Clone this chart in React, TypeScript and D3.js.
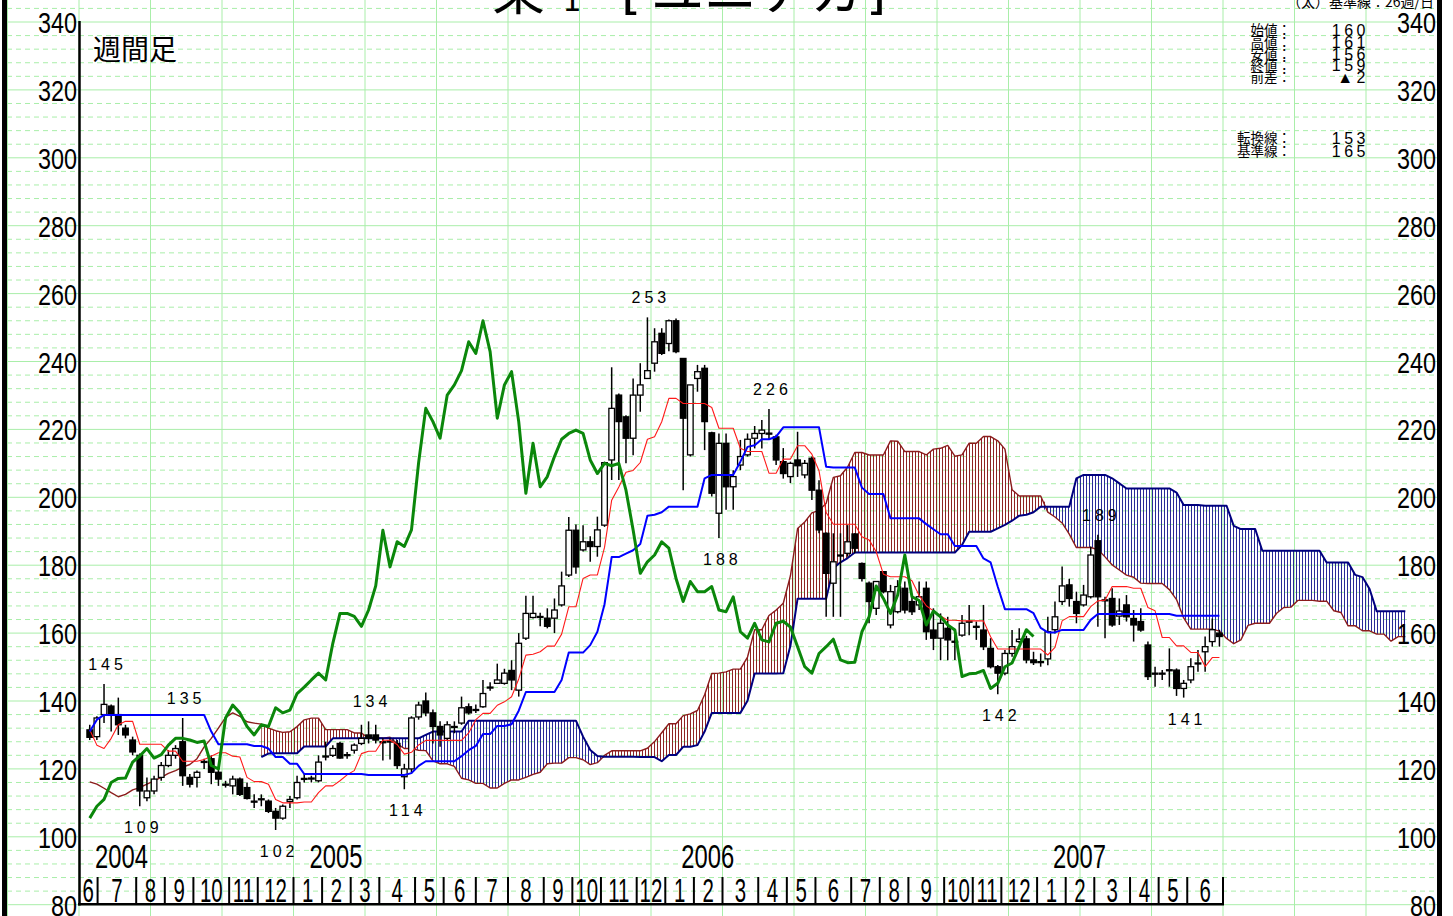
import React from "react";
import * as d3 from "d3";

// ---------------- DATA (weekly candles, June 2004 - June 2007) ----------------
const weekOpen = [
  131.5, 129.5, 136, 138.5, 136, 132, 128.5, 124, 111.5, 113.5,
  117.5, 121, 124, 128, 117.5, 117.5, 122, 123, 119, 115.5,
  115, 117, 114.5, 110.5, 111, 110.5, 107.5, 105.5, 110.4, 111.5,
  117, 117, 116.5, 123.5, 124, 127.5, 124, 125.5, 127.5, 130,
  130, 128, 128, 127.5, 117.7, 120, 135.3, 140, 136.5, 132.5,
  129, 132.3, 133.5, 138.3, 137.5, 138.3, 144, 145.2, 145.2, 149,
  143.2, 158.5, 164.6, 164.7, 164.4, 164.4, 168.3, 177.1, 190.3, 184.5,
  186.9, 185.5, 191.8, 211, 230.1, 223.7, 217.4, 230.1, 235, 239.5,
  248.3, 245.3, 252, 240.9, 212.5, 235, 238, 219, 195.3, 215.9,
  203.1, 209.5, 212.5, 217.4, 218.8, 218.9, 217.8, 210.5, 206.1, 211,
  206.6, 211.5, 202.1, 189.4, 174.7, 182.8, 183.5, 189.2, 180.5, 174.7,
  167.3, 178.1, 162.4, 166.3, 173.2, 169.3, 168.3, 173.2, 160.9, 158.5,
  161.4, 157.6, 159.4, 163.3, 162, 160.9, 155.5, 150.1, 148.2, 154,
  157.5, 158.3, 152.1, 151.6, 152.4, 161, 169.3, 174.2, 169.3, 168.3,
  170.7, 187.2, 169.8, 170.2, 165, 168.3, 164.3, 163.4, 156.5, 148.2,
  148, 149.2, 149.1, 143.7, 146.2, 151, 154.5, 157.5, 160,
];
const weekHigh = [
  133, 135.5, 145, 139, 141, 133, 129.5, 124.5, 117.5, 118,
  122, 125.5, 127, 135, 118.5, 119.5, 123, 124, 120, 116.5,
  118, 117.5, 116, 112.5, 112.5, 111, 108.5, 109.5, 112, 118,
  118.5, 118, 124, 128, 127, 128, 125, 127.5, 133, 134,
  133, 129, 129, 128.5, 121.5, 135.5, 139.8, 142.5, 137.5, 134,
  134, 134, 141.3, 139.3, 139, 146.2, 145.5, 151, 149.5, 152,
  160, 171, 171, 166, 167.3, 170.2, 178.1, 194.2, 192, 191.8,
  188.5, 194.3, 210.5, 238.3, 230.6, 224.2, 235, 239.5, 253, 249.8,
  249.8, 252.4, 252.7, 240.9, 233.1, 239, 239, 219.3, 218.8, 218.8,
  208, 216.9, 218.8, 221, 222.8, 226, 218.4, 214.5, 210.5, 219.3,
  211, 212, 205, 189.6, 189.4, 189.4, 191.8, 189.4, 180.8, 175.2,
  175.2, 178.1, 174.2, 175.6, 175.2, 170.7, 175.2, 175.2, 167.3, 165.8,
  164.8, 159.5, 165.3, 168.3, 163.4, 168.3, 158.5, 150.6, 155, 160.9,
  161.4, 159.2, 154.5, 154, 164.8, 169.3, 179.6, 176, 172.2, 174.2,
  185.5, 189, 170.7, 173.2, 170.2, 171.2, 166.8, 167.3, 157.5, 150.1,
  149.1, 155.5, 149.6, 146.2, 152.6, 155, 159, 164.3, 161,
];
const weekLow = [
  128.5, 128.5, 133.5, 131, 130, 129, 124, 109, 110.5, 112.5,
  116.5, 120.5, 123, 115, 114.5, 114.5, 120, 115.5, 115, 114.5,
  112.5, 112, 111, 108.5, 109, 107, 102, 105, 108.5, 111,
  116, 116, 116, 122.5, 123.5, 123, 123, 124.5, 127, 127.5,
  127.5, 122.5, 122.8, 120, 114, 118.7, 134.5, 135.5, 127.5, 126.5,
  128.5, 130.5, 133, 136, 136.5, 138, 143, 145, 144.8, 143.2,
  141.3, 158, 164.3, 162, 161.4, 160, 167.8, 176.5, 177.5, 184,
  181, 182.5, 191.3, 205.1, 205.1, 210, 212.4, 225.2, 235, 237,
  241.9, 243, 242.4, 202.1, 212, 231.1, 213.9, 200.2, 188, 196.3,
  196.3, 208, 212, 214.4, 214.4, 216.9, 209.5, 205.5, 204.2, 206,
  205.6, 199.2, 189.4, 164.8, 164.8, 164.8, 182.5, 183.5, 175.2, 162.9,
  165.3, 171.7, 161.4, 165.8, 165.8, 165.3, 166.8, 158, 155, 152,
  152, 152.1, 158.9, 159.4, 158, 155, 149.6, 142, 147.6, 153,
  157, 151.1, 150.6, 150.1, 150.5, 159.9, 168.3, 167.8, 162.9, 167.8,
  170.2, 161.9, 158.5, 161.9, 162.4, 163.4, 157.5, 160.4, 146.2, 144.2,
  146.2, 144.2, 141.5, 141, 145.2, 148.6, 148.6, 156, 156,
];
const weekClose = [
  129.3, 135, 139, 136, 133, 130, 125, 113.5, 113.5, 117,
  121, 124, 126, 118, 115.5, 119, 122.2, 119, 117, 115.3,
  117, 112.5, 111.3, 110.4, 111.2, 107.5, 105.5, 109, 111, 116,
  117.2, 117.3, 122, 123.8, 126, 123.2, 124.2, 127, 129, 129,
  128.5, 127.8, 128.2, 121, 120, 135, 138.8, 136.5, 132.5, 130,
  133, 132.5, 138, 136.5, 137.3, 142.2, 144.1, 146.2, 148.2, 146.2,
  157, 165.8, 165.8, 164.9, 162, 166.8, 173.9, 190.3, 179.5, 186.9,
  185.5, 190.4, 210.2, 226.2, 222.3, 217.4, 230.1, 233.1, 237.3, 245.8,
  242.4, 252, 242.9, 223.3, 233.1, 237, 222.3, 201.2, 215.9, 203.1,
  206.1, 212, 217.1, 218.8, 219.8, 218.8, 211, 207, 210, 209.3,
  210, 202.1, 190.4, 177.6, 181, 183, 186.9, 185, 176.1, 169.3,
  175.2, 172.2, 172.2, 173.7, 166.8, 166.3, 170.7, 160.4, 158.5, 162.9,
  158, 157.4, 162.9, 163.5, 161.8, 156, 150.1, 148.2, 154, 156,
  158.2, 152.1, 151.3, 151.4, 160.4, 164.8, 173.9, 170.2, 165.8, 171.2,
  183, 170.7, 169.6, 162.4, 166.5, 164.8, 162.4, 160.9, 147.2, 148,
  148.2, 149, 143.7, 145.2, 150.1, 151.2, 156, 161, 159,
];

// 転換線 (conversion line), one value per week
const tenkanLine = [
  131.5, 127, 126, 129, 133, 134, 134, 127.25, 127.25, 127.25,
  127.25, 125.25, 125.25, 122.25, 122.25, 122.25, 122.75, 123.75, 124.75, 124.75,
  123.75, 123.5, 117.5, 116.25, 116.25, 115.5, 111, 110, 110, 110,
  110.25, 110.25, 113, 115, 115, 116.5, 118.25, 119.5, 124.5, 125.2,
  125.2, 128.45, 128.45, 127.2, 124.35, 124.9, 127.05, 128.4, 128.4, 128.4,
  128.4, 128.4, 128.4, 130.6, 134.5, 136.35, 136.35, 138.75, 139.75, 141.25,
  146.5, 153.5, 153.75, 154.5, 156.15, 156.15, 159.7, 167.75, 167.75, 176.1,
  177.1, 177.15, 185.25, 199.15, 203.05, 207.4, 207.9, 210.25, 217.1, 217.85,
  222.25, 229.15, 229.15, 227.65, 227.65, 227.65, 227.65, 226.45, 220.35, 220.35,
  220.35, 214.45, 213.5, 213.5, 213.5, 207.1, 207.1, 211.25, 211.25, 215.2,
  215.2, 212.7, 207.8, 195.5, 192.05, 192.05, 192.05, 192.05, 188.4, 187.45,
  183.95, 177.35, 176.6, 176.6, 176.6, 175.4, 171.1, 168.05, 166.55, 165.05,
  163.8, 163.8, 163.6, 163.6, 163.6, 163.6, 158.95, 155.3, 155.3, 155.3,
  155.3, 155.3, 155.3, 155.3, 153.55, 155.8, 163.6, 164.85, 164.85, 164.85,
  167.8, 169.5, 169.7, 173.7, 173.7, 173.7, 173.2, 173.2, 167.55, 166.55,
  158.7, 158.7, 156.25, 156.25, 154.3, 154.3, 150.15, 152.8, 152.8,
];

// 基準線 (base line), one value per week
const kijunLine = [
  131, 134.5, 135.9, 135.9, 135.9, 135.9, 135.9, 135.9, 135.9, 135.9,
  135.9, 135.9, 135.9, 135.9, 135.9, 135.9, 135.9, 131, 127.25, 127.25,
  127.25, 127.25, 127.25, 126.75, 126.75, 126, 123.5, 123.5, 121.5, 121.5,
  118.5, 118.5, 118.5, 118.5, 118.5, 118.5, 118.5, 118.5, 118.5, 118.2,
  118.2, 118.2, 118.2, 118.2, 118.2, 118.75, 120.9, 122.25, 122.25, 122.25,
  122.25, 122.25, 123.75, 125.5, 126.75, 130.25, 130.25, 132.65, 132.65, 133.15,
  137.15, 142.65, 142.65, 142.65, 142.65, 142.65, 146.2, 154.25, 154.25, 154.25,
  156.45, 160.4, 168.5, 182.4, 182.4, 183.4, 184.4, 186.25, 194.6, 194.85,
  195.6, 197.25, 197.25, 197.25, 197.25, 197.25, 205.6, 206.6, 206.6, 206.6,
  206.6, 210.5, 214.85, 215.35, 217.1, 217.1, 217.85, 220.6, 220.6, 220.6,
  220.6, 220.6, 220.6, 209, 208.75, 208.75, 208.75, 208.75, 202.85, 200.95,
  200.95, 200.95, 193.8, 193.8, 193.8, 193.8, 193.8, 192.1, 190.6, 189.1,
  189.1, 185.65, 185.65, 185.65, 185.65, 182, 180.8, 173.65, 167.05, 167.05,
  167.05, 167.05, 165.85, 161.55, 160.2, 160.2, 160.95, 160.95, 160.95, 160.95,
  163.9, 165.6, 165.6, 165.6, 165.6, 165.6, 165.6, 165.6, 165.6, 165.6,
  165.6, 165.6, 165.1, 165.1, 165.1, 165.1, 165.1, 165.1, 165.1,
];

// 先行スパン1 (leading span A), plotted from week 0 to week 184
const senkouA = [
  116.2, 115.5, 114.3, 113, 111.8, 112.5, 113.8, 114.5, 115.5, 116.5,
  117.5, 118.7, 119.5, 120.5, 121.3, 123, 126.5, 129, 132, 135.2,
  136.5, 135.5, 133.9, 133.5, 133.2, 132,
  131.25, 130.75, 130.95, 132.45, 134.45, 134.95, 134.95, 131.58, 131.58, 131.58,
  131.58, 130.58, 130.58, 129.08, 129.08, 129.08, 129.33, 127.38, 126, 126,
  125.5, 125.38, 122.38, 121.5, 121.5, 120.75,
  117.25, 116.75, 115.75, 115.75, 114.38, 114.38, 115.75, 116.75, 116.75, 117.5,
  118.38, 119, 121.5, 121.7, 121.7, 123.33, 123.33, 122.7, 121.28, 121.83,
  123.98, 125.33, 125.33, 125.33, 125.33, 125.33, 126.08, 128.05, 130.63, 133.3,
  133.3, 135.7, 136.2, 137.2, 141.83, 148.08, 148.2, 148.58, 149.4, 149.4,
  152.95, 161, 161, 165.18, 166.78, 168.78, 176.88, 190.78, 192.73, 195.4,
  196.15, 198.25, 205.85, 206.35, 208.93, 213.2, 213.2, 212.45, 212.45, 212.45,
  216.63, 216.53, 213.48, 213.48, 213.48, 212.48, 214.18, 214.43, 215.3, 212.1,
  212.48, 215.93, 215.93, 217.9, 217.9, 216.65, 214.2, 202.25, 200.4, 200.4,
  200.4, 200.4, 195.63, 194.2, 192.45, 189.15, 185.2, 185.2, 185.2, 184.6,
  182.45, 180.08, 178.58, 177.08, 176.45, 174.73, 174.63, 174.63, 174.63, 172.8,
  169.88, 164.48, 161.18, 161.18, 161.18, 161.18, 160.58, 158.43, 156.88, 158,
  162.28, 162.9, 162.9, 162.9, 165.85, 167.55, 167.65, 169.65, 169.65, 169.65,
  169.4, 169.4, 166.58, 166.08, 162.15, 162.15, 160.68, 160.68, 159.7, 159.7,
  157.63, 158.95, 158.95,
];

// 先行スパン2 (leading span B), plotted from week 24 to week 184
const senkouBStart = 24;
const senkouB = [
  123.5, 124.5, 124.6, 124.6, 124.6, 124.6, 126.6, 126.6, 126.6, 126.6,
  129, 129, 129, 129, 129, 129, 129, 129, 129, 129,
  129, 129, 129, 130, 131, 131, 131, 131, 131, 134.2,
  134.2, 134.2, 134.2, 134.2, 134.2, 134.2, 134.2, 134.2, 134.2, 134.2,
  134.2, 134.2, 134.2, 134.2, 134.2, 129.5, 125.6, 123.8, 123.6, 123.6,
  123.6, 123.6, 123.6, 123.5, 123.5, 123.5, 122.25, 124.1, 124.1, 126.5,
  126.5, 127, 131, 136.5, 136.5, 136.5, 136.5, 136.5, 140.05, 148.1,
  148.1, 148.1, 148.1, 148.15, 156.25, 170.15, 170.15, 170.15, 170.15, 170.15,
  179.1, 180.85, 182.1, 183.75, 183.75, 183.75, 183.75, 183.75, 183.75, 183.75,
  183.75, 183.75, 183.75, 183.75, 183.75, 183.75, 183.75, 183.75, 185.95, 189.85,
  189.85, 189.85, 189.85, 190.85, 191.85, 193.1, 194.6, 194.85, 195.6, 197.25,
  197.25, 197.25, 197.25, 197.25, 205.6, 206.6, 206.6, 206.6, 206.6, 205.6,
  204.1, 202.6, 202.6, 202.6, 202.6, 202.6, 202.6, 202.6, 201.4, 197.75,
  197.75, 197.75, 197.5, 197.5, 197.5, 197.5, 191.6, 190.65, 190.65, 190.65,
  184.25, 184.25, 184.25, 184.25, 184.25, 184.25, 184.25, 184.25, 184.25, 180.8,
  180.8, 180.8, 180.8, 177.15, 176.5, 173, 166.4, 166.4, 166.4, 166.4,
  166.4,
];

// 遅行スパン: close shifted back by 26 weeks
const chikouShift = 26;

const yTicks = [80, 100, 120, 140, 160, 180, 200, 220, 240, 260, 280, 300, 320, 340];
const monthLabels = [
  "6", "7", "8", "9", "10", "11", "12", "1", "2", "3", "4", "5",
  "6", "7", "8", "9", "10", "11", "12", "1", "2", "3", "4", "5",
  "6", "7", "8", "9", "10", "11", "12", "1", "2", "3", "4", "5", "6",
];
// month boundaries in week units (first = axis start, last = axis end)
const monthBoundaryWeeks = [
  0, 2.6, 8, 12, 16, 21, 25, 30, 34, 38, 42, 47, 51, 55.5, 60, 65, 69, 73, 78,
  82, 86, 90, 95, 99, 103, 108, 112, 116, 121, 125, 129, 134, 138, 142, 147, 151, 155, 160,
];
const yearLabels = ["2004", "2005", "2006", "2007"];
const yearWeeks = [0, 30, 82, 134];

const peakWeeks = [2, 13, 7, 26, 39, 44, 78, 95, 88, 141, 127, 153];
const peakValues = [145, 135, 109, 102, 134, 114, 253, 226, 188, 189, 142, 141];
const peakIsHigh = [true, true, false, false, true, false, true, true, false, true, false, false];

const infoLabels = ["始値：", "高値：", "安値：", "終値：", "前差："];
const infoValues = ["160", "161", "156", "159", "▲2"];
const lineLabels = ["転換線：", "基準線："];
const lineValues = ["153", "165"];

// ---------------- LAYOUT ----------------
const W = 1453;
const H = 916;
const xScale = d3.scaleLinear().domain([-1.5, 0]).range([79, 89.725]);
const yScale = d3.scaleLinear().domain([80, 340]).range([904.7, 22]);
const NUM = "'Liberation Sans', Arial, sans-serif";
const CJK = "'Noto Sans CJK JP', sans-serif";
const GRID = "#a9eea9";

function CondText(props: any) {
  const { x, y, sx, size, anchor, children } = props;
  return (
    <text
      transform={`translate(${x},${y}) scale(${sx},1)`}
      fontSize={size}
      fontFamily={NUM}
      textAnchor={anchor}
      fill="#000"
    >
      {children}
    </text>
  );
}

export default function App() {
  const nA = senkouA.length;
  const sbAt = (j: number) => senkouB[j - senkouBStart];
  const cloudIdx = d3.range(senkouBStart, nA);

  const redArea = d3
    .area<number>()
    .x((j) => xScale(j))
    .y0((j) => yScale(sbAt(j)))
    .y1((j) => yScale(Math.max(senkouA[j], sbAt(j))))(cloudIdx);
  const blueArea = d3
    .area<number>()
    .x((j) => xScale(j))
    .y0((j) => yScale(sbAt(j)))
    .y1((j) => yScale(Math.min(senkouA[j], sbAt(j))))(cloudIdx);

  const line = d3
    .line<number>()
    .x((_, k) => xScale(k))
    .y((v) => yScale(v));
  const lineOff = (off: number) =>
    d3
      .line<number>()
      .x((_, k) => xScale(k + off))
      .y((v) => yScale(v));

  const saPath = line(senkouA);
  const sbPath = lineOff(senkouBStart)(senkouB);
  const tenkanPath = line(tenkanLine);
  const kijunPath = line(kijunLine);
  const chikouPath = line(weekClose.slice(chikouShift));

  // grid
  const vGrid = d3.range(-1, 20).map((k) => xScale(-1.5 + 10 * k));
  const hGrid = d3.range(76, 349, 4);

  const bw = 5.6;

  return (
    <div style={{ position: "absolute", left: 0, top: 0 }}>
      <svg width={W} height={H} xmlns="http://www.w3.org/2000/svg" style={{ display: "block", background: "#fff" }}>
        <defs>
          <pattern id="hatchRed" width="3" height="8" patternUnits="userSpaceOnUse">
            <rect x="0" y="0" width="1" height="8" fill="#8e2323" />
          </pattern>
          <pattern id="hatchBlue" width="3" height="8" patternUnits="userSpaceOnUse">
            <rect x="0" y="0" width="1" height="8" fill="#2a2a98" />
          </pattern>
        </defs>
        <rect x={0} y={0} width={W} height={H} fill="#fff" />

        {/* grid */}
        {hGrid.map((v) => (
          <line
            key={"h" + v}
            x1={7}
            x2={1437}
            y1={yScale(v)}
            y2={yScale(v)}
            stroke={GRID}
            strokeWidth={1}
            strokeDasharray={v % 20 === 0 ? undefined : "5,4"}
          />
        ))}
        {vGrid.map((xv, k) => (
          <line key={"v" + k} x1={xv} x2={xv} y1={0} y2={H} stroke={GRID} strokeWidth={1} />
        ))}

        {/* cloud */}
        <path d={redArea || ""} fill="url(#hatchRed)" stroke="none" />
        <path d={blueArea || ""} fill="url(#hatchBlue)" stroke="none" />
        <path d={saPath || ""} fill="none" stroke="#8b1c1c" strokeWidth={1.4} strokeLinejoin="round" />
        <path d={sbPath || ""} fill="none" stroke="#00007f" strokeWidth={2} strokeLinejoin="round" />

        {/* candles */}
        {weekClose.map((c, i) => {
          const o = weekOpen[i];
          const xc = xScale(i);
          const top = yScale(Math.max(o, c));
          const bot = yScale(Math.min(o, c));
          const up = c >= o;
          return (
            <g key={"c" + i}>
              <line x1={xc} x2={xc} y1={yScale(weekHigh[i])} y2={yScale(weekLow[i])} stroke="#000" strokeWidth={1.5} />
              <rect
                x={xc - bw / 2}
                y={top}
                width={bw}
                height={Math.max(bot - top, 1)}
                fill={up ? "#fff" : "#000"}
                stroke="#000"
                strokeWidth={1.3}
              />
            </g>
          );
        })}

        {/* lines */}
        <path d={tenkanPath || ""} fill="none" stroke="#ff1a1a" strokeWidth={1.1} strokeLinejoin="round" />
        <path d={kijunPath || ""} fill="none" stroke="#0000ff" strokeWidth={2} strokeLinejoin="round" />
        <path d={chikouPath || ""} fill="none" stroke="#0b870b" strokeWidth={3} strokeLinejoin="round" />

        {/* peak labels */}
        {peakWeeks.map((w, k) => (
          <text
            key={"p" + k}
            x={xScale(w) + 3.5}
            y={peakIsHigh[k] ? yScale(peakValues[k]) - 14 : yScale(peakValues[k]) + 27}
            fontSize={16}
            fontFamily={NUM}
            letterSpacing={4}
            textAnchor="middle"
            fill="#000"
          >
            {peakValues[k]}
          </text>
        ))}

        {/* axes */}
        <line x1={79.5} x2={79.5} y1={21} y2={905.5} stroke="#000" strokeWidth={2.5} />
        <line x1={78} x2={xScale(monthBoundaryWeeks[monthBoundaryWeeks.length - 1] - 1.5) + 1} y1={904.3} y2={904.3} stroke="#000" strokeWidth={2.5} />
        {monthBoundaryWeeks.slice(1).map((w, k) => {
          const xv = xScale(w - 1.5);
          return <line key={"ms" + k} x1={xv} x2={xv} y1={877} y2={904} stroke="#000" strokeWidth={2} />;
        })}
        {monthLabels.map((m, k) => {
          const xm = (xScale(monthBoundaryWeeks[k] - 1.5) + xScale(monthBoundaryWeeks[k + 1] - 1.5)) / 2;
          return (
            <CondText key={"ml" + k} x={xm} y={902} sx={0.62} size={33} anchor="middle">
              {m}
            </CondText>
          );
        })}
        {yearLabels.map((yl, k) => (
          <CondText key={"yl" + k} x={xScale(yearWeeks[k] - 1.5) + 16} y={868} sx={0.7} size={34} anchor="start">
            {yl}
          </CondText>
        ))}
        {yTicks.map((v) => (
          <g key={"yt" + v}>
            <CondText x={77} y={yScale(v) + 11} sx={0.78} size={30} anchor="end">
              {v}
            </CondText>
            <CondText x={1436} y={yScale(v) + 11} sx={0.78} size={30} anchor="end">
              {v}
            </CondText>
          </g>
        ))}

        {/* frame bars */}
        <rect x={2} y={0} width={5} height={H} fill="#000" />
        <rect x={1437} y={0} width={5} height={H} fill="#000" />

        {/* title (mostly cut off at top) */}
        <text x={492} y={10} fontSize={53} fontFamily={CJK} fill="#000">東</text>
        <text x={572} y={11} fontSize={30} fontFamily="'DejaVu Sans', sans-serif" textAnchor="middle" fill="#000">1</text>
        <text x={621} y={8} fontSize={52} fontFamily="'DejaVu Sans', sans-serif" fill="#000">[</text>
        <text x={651} y={10} fontSize={53} fontFamily={CJK} fill="#000">ユニチカ</text>
        <text x={866} y={8} fontSize={52} fontFamily="'DejaVu Sans', sans-serif" fill="#000">]</text>
        <text x={1434} y={6.5} fontSize={14} fontFamily={CJK} textAnchor="end" fill="#000">（太）基準線：26週/日</text>

        <text x={93} y={60} fontSize={28} fontFamily={CJK} fill="#000">週間足</text>

        {/* info box */}
        {infoLabels.map((l, k) => (
          <g key={"il" + k}>
            <text x={1291} y={35 + k * 11.8} fontSize={13.5} fontFamily={CJK} textAnchor="end" fill="#000">
              {l}
            </text>
            <text x={1369} y={36 + k * 11.8} fontSize={16} fontFamily={NUM} letterSpacing={3.5} textAnchor="end" fill="#000">
              {infoValues[k]}
            </text>
          </g>
        ))}
        {lineLabels.map((l, k) => (
          <g key={"ll" + k}>
            <text x={1291} y={142.5 + k * 13} fontSize={13.5} fontFamily={CJK} textAnchor="end" fill="#000">
              {l}
            </text>
            <text x={1369} y={143.5 + k * 13} fontSize={16} fontFamily={NUM} letterSpacing={3.5} textAnchor="end" fill="#000">
              {lineValues[k]}
            </text>
          </g>
        ))}
      </svg>
    </div>
  );
}
